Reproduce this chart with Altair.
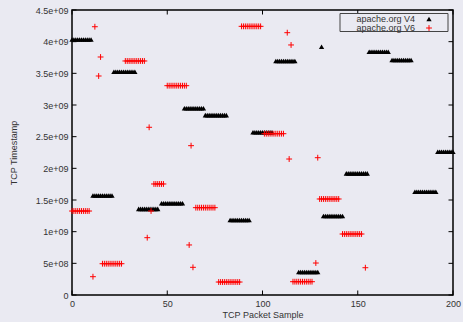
import altair as alt
import pandas as pd

# ---------------- data ----------------
SERIES = ["apache.org V4", "apache.org V6"]

X_TICKS = [0, 50, 100, 150, 200]
Y_TICKS = [0, 5e8, 1e9, 1.5e9, 2e9, 2.5e9, 3e9, 3.5e9, 4e9, 4.5e9]
Y_TICK_LABELS = ["0", "5e+08", "1e+09", "1.5e+09", "2e+09", "2.5e+09",
                 "3e+09", "3.5e+09", "4e+09", "4.5e+09"]

V4_SAMPLE = [
    0, 1, 2, 3, 4, 5, 6, 7, 8, 9, 10,
    11, 12, 13, 14, 15, 16, 17, 18, 19, 20, 21,
    22, 23, 24, 25, 26, 27, 28, 29, 30, 31, 32, 33,
    35, 36, 37, 38, 39, 40, 41, 42, 43, 44, 45,
    47, 48, 49, 50, 51, 52, 53, 54, 55, 56, 57, 58,
    59, 60, 61, 62, 63, 64, 65, 66, 67, 68, 69,
    70, 71, 72, 73, 74, 75, 76, 77, 78, 79, 80, 81,
    83, 84, 85, 86, 87, 88, 89, 90, 91, 92, 93,
    95, 96, 97, 98, 99, 100, 101, 102, 103, 104, 105,
    107, 108, 109, 110, 111, 112, 113, 114, 115, 116, 117,
    119, 120, 121, 122, 123, 124, 125, 126, 127, 128, 129,
    131,
    132, 133, 134, 135, 136, 137, 138, 139, 140, 141, 142,
    144, 145, 146, 147, 148, 149, 150, 151, 152, 153, 154, 155,
    156, 157, 158, 159, 160, 161, 162, 163, 164, 165, 166,
    168, 169, 170, 171, 172, 173, 174, 175, 176, 177, 178,
    180, 181, 182, 183, 184, 185, 186, 187, 188, 189, 190, 191,
    192, 193, 194, 195, 196, 197, 198, 199, 200,
]
V4_TS = [
    4.035e9, 4.035e9, 4.035e9, 4.035e9, 4.035e9, 4.035e9, 4.035e9, 4.035e9, 4.035e9, 4.035e9, 4.035e9,
    1.570e9, 1.570e9, 1.570e9, 1.570e9, 1.570e9, 1.570e9, 1.570e9, 1.570e9, 1.570e9, 1.570e9, 1.570e9,
    3.525e9, 3.525e9, 3.525e9, 3.525e9, 3.525e9, 3.525e9, 3.525e9, 3.525e9, 3.525e9, 3.525e9, 3.525e9, 3.525e9,
    1.360e9, 1.360e9, 1.360e9, 1.360e9, 1.360e9, 1.360e9, 1.360e9, 1.360e9, 1.360e9, 1.360e9, 1.360e9,
    1.448e9, 1.448e9, 1.448e9, 1.448e9, 1.448e9, 1.448e9, 1.448e9, 1.448e9, 1.448e9, 1.448e9, 1.448e9, 1.448e9,
    2.950e9, 2.950e9, 2.950e9, 2.950e9, 2.950e9, 2.950e9, 2.950e9, 2.950e9, 2.950e9, 2.950e9, 2.950e9,
    2.840e9, 2.840e9, 2.840e9, 2.840e9, 2.840e9, 2.840e9, 2.840e9, 2.840e9, 2.840e9, 2.840e9, 2.840e9, 2.840e9,
    1.184e9, 1.184e9, 1.184e9, 1.184e9, 1.184e9, 1.184e9, 1.184e9, 1.184e9, 1.184e9, 1.184e9, 1.184e9,
    2.570e9, 2.570e9, 2.570e9, 2.570e9, 2.570e9, 2.570e9, 2.570e9, 2.570e9, 2.570e9, 2.570e9, 2.570e9,
    3.695e9, 3.695e9, 3.695e9, 3.695e9, 3.695e9, 3.695e9, 3.695e9, 3.695e9, 3.695e9, 3.695e9, 3.695e9,
    0.363e9, 0.363e9, 0.363e9, 0.363e9, 0.363e9, 0.363e9, 0.363e9, 0.363e9, 0.363e9, 0.363e9, 0.363e9,
    3.920e9,
    1.247e9, 1.247e9, 1.247e9, 1.247e9, 1.247e9, 1.247e9, 1.247e9, 1.247e9, 1.247e9, 1.247e9, 1.247e9,
    1.920e9, 1.920e9, 1.920e9, 1.920e9, 1.920e9, 1.920e9, 1.920e9, 1.920e9, 1.920e9, 1.920e9, 1.920e9, 1.920e9,
    3.840e9, 3.840e9, 3.840e9, 3.840e9, 3.840e9, 3.840e9, 3.840e9, 3.840e9, 3.840e9, 3.840e9, 3.840e9,
    3.710e9, 3.710e9, 3.710e9, 3.710e9, 3.710e9, 3.710e9, 3.710e9, 3.710e9, 3.710e9, 3.710e9, 3.710e9,
    1.630e9, 1.630e9, 1.630e9, 1.630e9, 1.630e9, 1.630e9, 1.630e9, 1.630e9, 1.630e9, 1.630e9, 1.630e9, 1.630e9,
    2.263e9, 2.263e9, 2.263e9, 2.263e9, 2.263e9, 2.263e9, 2.263e9, 2.263e9, 2.263e9,
]

V6_SAMPLE = [
    0, 1, 2, 3, 4, 5, 6, 7, 8, 9,
    11, 12, 14, 15,
    16, 17, 18, 19, 20, 21, 22, 23, 24, 25, 26,
    28, 29, 30, 31, 32, 33, 34, 35, 36, 37, 38,
    39.5, 40.5, 41.5,
    43, 44, 45, 46, 47, 48,
    50, 51, 52, 53, 54, 55, 56, 57, 58, 59, 60,
    61.5, 62.5, 63.5,
    65, 66, 67, 68, 69, 70, 71, 72, 73, 74, 75,
    77, 78, 79, 80, 81, 82, 83, 84, 85, 86, 87, 88,
    89, 90, 91, 92, 93, 94, 95, 96, 97, 98, 99,
    101, 102, 103, 104, 105, 106, 107, 108, 109, 110, 111,
    113, 114, 115,
    116, 117, 118, 119, 120, 121, 122, 123, 124, 125, 126,
    128, 129,
    130, 131, 132, 133, 134, 135, 136, 137, 138, 139, 140,
    142, 143, 144, 145, 146, 147, 148, 149, 150, 151, 152,
    154,
]
V6_TS = [
    1.326e9, 1.326e9, 1.326e9, 1.326e9, 1.326e9, 1.326e9, 1.326e9, 1.326e9, 1.326e9, 1.326e9,
    0.289e9, 4.236e9, 3.458e9, 3.758e9,
    0.494e9, 0.494e9, 0.494e9, 0.494e9, 0.494e9, 0.494e9, 0.494e9, 0.494e9, 0.494e9, 0.494e9, 0.494e9,
    3.695e9, 3.695e9, 3.695e9, 3.695e9, 3.695e9, 3.695e9, 3.695e9, 3.695e9, 3.695e9, 3.695e9, 3.695e9,
    0.905e9, 2.648e9, 1.326e9,
    1.753e9, 1.753e9, 1.753e9, 1.753e9, 1.753e9, 1.753e9,
    3.305e9, 3.305e9, 3.305e9, 3.305e9, 3.305e9, 3.305e9, 3.305e9, 3.305e9, 3.305e9, 3.305e9, 3.305e9,
    0.790e9, 2.358e9, 0.437e9,
    1.379e9, 1.379e9, 1.379e9, 1.379e9, 1.379e9, 1.379e9, 1.379e9, 1.379e9, 1.379e9, 1.379e9, 1.379e9,
    0.205e9, 0.205e9, 0.205e9, 0.205e9, 0.205e9, 0.205e9, 0.205e9, 0.205e9, 0.205e9, 0.205e9, 0.205e9, 0.205e9,
    4.242e9, 4.242e9, 4.242e9, 4.242e9, 4.242e9, 4.242e9, 4.242e9, 4.242e9, 4.242e9, 4.242e9, 4.242e9,
    2.547e9, 2.547e9, 2.547e9, 2.547e9, 2.547e9, 2.547e9, 2.547e9, 2.547e9, 2.547e9, 2.547e9, 2.547e9,
    4.142e9, 2.147e9, 3.948e9,
    0.210e9, 0.210e9, 0.210e9, 0.210e9, 0.210e9, 0.210e9, 0.210e9, 0.210e9, 0.210e9, 0.210e9, 0.210e9,
    0.505e9, 2.168e9,
    1.516e9, 1.516e9, 1.516e9, 1.516e9, 1.516e9, 1.516e9, 1.516e9, 1.516e9, 1.516e9, 1.516e9, 1.516e9,
    0.963e9, 0.963e9, 0.963e9, 0.963e9, 0.963e9, 0.963e9, 0.963e9, 0.963e9, 0.963e9, 0.963e9, 0.963e9,
    0.431e9,
]

# ---------------- chart ----------------
FONT = "Liberation Sans"
TXT = "#333333"
BG = "#eaeaf2"
W, H = 381, 285

v4 = pd.DataFrame({"sample": V4_SAMPLE, "ts": V4_TS, "series": SERIES[0]})
v6 = pd.DataFrame({"sample": V6_SAMPLE, "ts": V6_TS, "series": SERIES[1]})

x_scale = alt.Scale(domain=[0, 200], nice=False, zero=False)
y_scale = alt.Scale(domain=[0, 4.5e9], nice=False, zero=False)

label_expr = "[" + ",".join("'%s'" % s for s in Y_TICK_LABELS) + "][round(datum.value/5e8)]"

x_axis = alt.Axis(values=X_TICKS, title="TCP Packet Sample", ticks=False, domain=False,
                  grid=False, labelPadding=4, titlePadding=2, labelFlush=False)
y_axis = alt.Axis(values=Y_TICKS, title="TCP Timestamp", ticks=False, domain=False,
                  grid=False, labelPadding=4, titlePadding=17, labelExpr=label_expr,
                  labelFlush=False)

X = alt.X("sample:Q", scale=x_scale, axis=x_axis)
Y = alt.Y("ts:Q", scale=y_scale, axis=y_axis)

PLUS = "M-1,0H1M0,-1V1"

pts4 = alt.Chart(v4).mark_point(shape="triangle-up", filled=True, size=28,
                                color="black", opacity=1).encode(x=X, y=Y)
pts6 = alt.Chart(v6).mark_point(shape=PLUS, filled=False, size=34, color="#ff0000",
                                strokeWidth=1, opacity=1).encode(x=X, y=Y)

xt = pd.DataFrame({"sample": X_TICKS})
yt = pd.DataFrame({"ts": Y_TICKS})
tick_style = dict(color="black", strokeWidth=1)
ticks_bottom = alt.Chart(xt).mark_rule(**tick_style).encode(x=X, y=alt.value(H), y2=alt.value(H - 4.5))
ticks_top = alt.Chart(xt).mark_rule(**tick_style).encode(x=X, y=alt.value(0), y2=alt.value(4.5))
ticks_left = alt.Chart(yt).mark_rule(**tick_style).encode(y=Y, x=alt.value(0), x2=alt.value(4.5))
ticks_right = alt.Chart(yt).mark_rule(**tick_style).encode(y=Y, x=alt.value(W), x2=alt.value(W - 4.5))

# legend (box, labels on the left, symbols on the right)
one = pd.DataFrame({"k": [0]})
leg_box = alt.Chart(one).mark_rect(fill=BG, stroke="#444444", strokeWidth=1).encode(
    x=alt.value(268), x2=alt.value(376), y=alt.value(3.5), y2=alt.value(21.5))
leg_t4 = alt.Chart(pd.DataFrame({"label": [SERIES[0]]})).mark_text(
    align="right", baseline="middle", font=FONT, fontSize=9, color=TXT).encode(
    text="label:N", x=alt.value(343), y=alt.value(8.5))
leg_t6 = alt.Chart(pd.DataFrame({"label": [SERIES[1]]})).mark_text(
    align="right", baseline="middle", font=FONT, fontSize=9, color=TXT).encode(
    text="label:N", x=alt.value(343), y=alt.value(17.5))
leg_s4 = alt.Chart(one).mark_point(shape="triangle-up", filled=True, size=28,
                                   color="black", opacity=1).encode(
    x=alt.value(357), y=alt.value(9))
leg_s6 = alt.Chart(one).mark_point(shape=PLUS, filled=False, size=34, color="#ff0000",
                                   strokeWidth=1, opacity=1).encode(
    x=alt.value(357), y=alt.value(18))

chart = alt.layer(
    ticks_bottom, ticks_top, ticks_left, ticks_right,
    pts4, pts6,
    leg_box, leg_t4, leg_t6, leg_s4, leg_s6,
).properties(
    width=W, height=H,
    autosize=alt.AutoSizeParams(type="none"),
    padding={"left": 72, "top": 10, "right": 10, "bottom": 27},
    background=BG,
).configure_view(
    stroke="black", strokeWidth=1.5, fill=BG,
).configure_axis(
    labelFont=FONT, labelFontSize=9, labelColor=TXT,
    titleFont=FONT, titleFontSize=9, titleColor=TXT, titleFontWeight="normal",
)

chart.save("out.html", embed_options={"renderer": "svg", "actions": False})
